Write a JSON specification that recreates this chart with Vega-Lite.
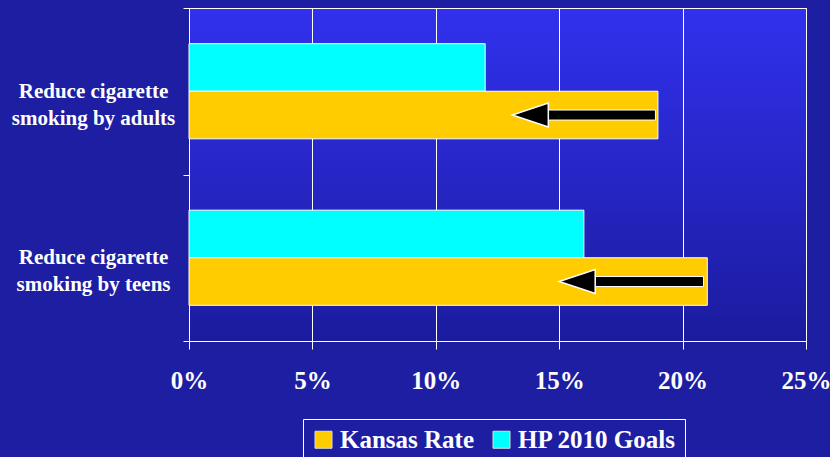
{
  "$schema": "https://vega.github.io/schema/vega-lite/v6.json",
  "width": 617,
  "height": 333,
  "autosize": {"type": "none"},
  "padding": {"left": 189, "top": 8, "right": 24, "bottom": 116},
  "background": "#1e1ea3",
  "config": {
    "font": "Liberation Serif",
    "view": {
      "fill": {"gradient": "linear", "x1": 0, "y1": 0, "x2": 0, "y2": 1,
        "stops": [{"offset": 0, "color": "#3131ee"}, {"offset": 1, "color": "#1b1b9e"}]},
      "stroke": "white",
      "strokeWidth": 1
    }
  },
  "datasets": {
    "bars": [
      {"cat": "Reduce cigarette|smoking by adults", "series": "HP 2010 Goals", "value": 0.12},
      {"cat": "Reduce cigarette|smoking by adults", "series": "Kansas Rate", "value": 0.19},
      {"cat": "Reduce cigarette|smoking by teens", "series": "HP 2010 Goals", "value": 0.16},
      {"cat": "Reduce cigarette|smoking by teens", "series": "Kansas Rate", "value": 0.21}
    ],
    "arrows": [
      {"cat": "Reduce cigarette|smoking by adults", "series": "Kansas Rate", "from": 0.189, "base": 0.1455, "to": 0.131},
      {"cat": "Reduce cigarette|smoking by teens", "series": "Kansas Rate", "from": 0.2085, "base": 0.1645, "to": 0.150}
    ]
  },
  "encoding": {
    "y": {
      "field": "cat", "type": "nominal",
      "sort": ["Reduce cigarette|smoking by adults", "Reduce cigarette|smoking by teens"],
      "scale": {"paddingInner": 0, "paddingOuter": 0},
      "axis": {
        "title": null,
        "labelExpr": "split(datum.label, '|')",
        "labelAlign": "center",
        "labelPadding": 90,
        "labelFont": "Liberation Serif",
        "labelFontSize": 21,
        "labelFontWeight": "bold",
        "labelColor": "white",
        "labelLineHeight": 27,
        "labelLimit": 400,
        "tickBand": "extent",
        "tickSize": 6,
        "tickColor": "white",
        "domainColor": "white",
        "grid": false
      }
    },
    "yOffset": {
      "field": "series", "type": "nominal",
      "sort": ["HP 2010 Goals", "Kansas Rate"],
      "scale": {"domain": ["HP 2010 Goals", "Kansas Rate"], "paddingInner": 0, "paddingOuter": 0.75}
    }
  },
  "layer": [
    {
      "data": {"name": "bars"},
      "mark": {"type": "bar", "stroke": "white", "strokeWidth": 1},
      "encoding": {
        "x": {
          "field": "value", "type": "quantitative",
          "scale": {"domain": [0, 0.25], "nice": false},
          "axis": {
            "title": null,
            "format": ".0%",
            "values": [0, 0.05, 0.1, 0.15, 0.2, 0.25],
            "labelFont": "Liberation Serif",
            "labelFontSize": 25,
            "labelFontWeight": "bold",
            "labelColor": "white",
            "labelPadding": 19,
            "labelFlush": false,
            "labelOverlap": false,
            "tickSize": 8,
            "tickColor": "white",
            "domainColor": "white",
            "grid": true,
            "gridColor": "white",
            "gridOpacity": 1,
            "gridWidth": 1
          }
        },
        "color": {
          "field": "series", "type": "nominal",
          "scale": {"domain": ["Kansas Rate", "HP 2010 Goals"], "range": ["#ffcc00", "#00ffff"]},
          "legend": {
            "orient": "none",
            "legendX": 114,
            "legendY": 411,
            "direction": "horizontal",
            "title": null,
            "symbolType": "square",
            "symbolSize": 289,
            "symbolStrokeColor": "#dddddd",
            "symbolStrokeWidth": 1,
            "symbolOpacity": 1,
            "labelFont": "Liberation Serif",
            "labelFontSize": 25,
            "labelFontWeight": "bold",
            "labelColor": "white",
            "labelOffset": 4,
            "strokeColor": "white",
            "padding": 8,
            "columnPadding": 14
          }
        }
      }
    },
    {
      "data": {"name": "arrows"},
      "mark": {"type": "bar", "height": 10, "color": "black", "stroke": "white", "strokeWidth": 1},
      "encoding": {
        "x": {"field": "base", "type": "quantitative", "scale": {"domain": [0, 0.25], "nice": false}},
        "x2": {"field": "from"}
      }
    },
    {
      "data": {"name": "arrows"},
      "mark": {"type": "point", "shape": "M0,0L3,-1L3,1Z", "size": 576, "filled": true, "fill": "black", "stroke": "white", "strokeWidth": 1.5, "opacity": 1},
      "encoding": {
        "x": {"field": "to", "type": "quantitative", "scale": {"domain": [0, 0.25], "nice": false}}
      }
    }
  ]
}
